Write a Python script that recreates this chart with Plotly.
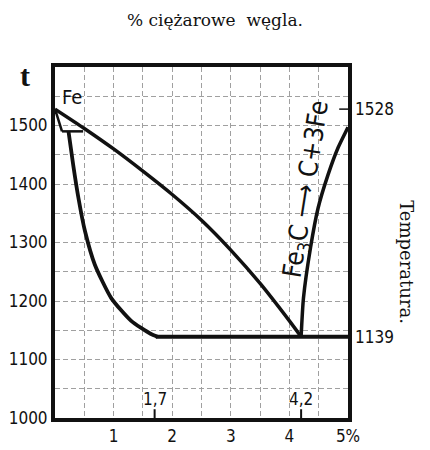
import plotly.graph_objects as go

# --- data ---
liquidus_x = [0, 0.5, 1.0, 1.5, 2.0, 2.5, 3.0, 3.5, 4.0, 4.2]
liquidus_t = [1528, 1495, 1460, 1422, 1382, 1338, 1287, 1230, 1166, 1139]

ferrite_x = [0, 0.12]
ferrite_t = [1528, 1490]

peritectic_x = [0.12, 0.48]
peritectic_t = [1490, 1490]

solidus_x = [0.23, 0.31, 0.40, 0.51, 0.68, 0.96, 1.30, 1.63, 1.75]
solidus_t = [1490, 1433, 1376, 1320, 1262, 1205, 1166, 1144, 1139]

eutectic_x = [1.72, 5.0]
eutectic_t = [1139, 1139]

graphite_x = [4.2, 4.24, 4.36, 4.49, 4.66, 4.83, 4.97, 5.0]
graphite_t = [1139, 1205, 1291, 1359, 1416, 1462, 1491, 1497]

x_ticks = [1, 2, 3, 4, 5]
x_ticktext = ["1", "2", "3", "4", "5%"]
y_ticks = [1000, 1100, 1200, 1300, 1400, 1500]
y_ticktext = ["1000", "1100", "1200", "1300", "1400", "1500"]

special_x = [1.7, 4.2]
special_x_text = ["1,7", "4,2"]
special_t = [1528, 1139]
special_t_text = ["1528", "1139"]

NARROW = "Liberation Sans Narrow, DejaVu Sans Condensed, Arial Narrow, Liberation Sans, sans-serif"
TICKFONT = dict(family=NARROW, size=17, color="#111")
SERIF = dict(family="DejaVu Serif, Liberation Serif, serif", size=17, color="#111")

fig = go.Figure()

for xs, ts, w in [(liquidus_x, liquidus_t, 3.5), (ferrite_x, ferrite_t, 2.5),
                  (peritectic_x, peritectic_t, 2.5), (solidus_x, solidus_t, 3.8),
                  (eutectic_x, eutectic_t, 4), (graphite_x, graphite_t, 3.5)]:
    fig.add_trace(go.Scatter(x=xs, y=ts, mode="lines",
                             line=dict(color="#111", width=w, shape="spline", smoothing=0.6),
                             hoverinfo="skip", showlegend=False, cliponaxis=False))

# small tick marks at special compositions on bottom axis
for sx in special_x:
    fig.add_shape(type="line", x0=sx, x1=sx, y0=1000, y1=1015, line=dict(color="#111", width=2))
# small tick at 1528 on right axis
fig.add_shape(type="line", x0=4.85, x1=5.0, y0=special_t[0], y1=special_t[0],
              line=dict(color="#111", width=1.5))

for sx, txt in zip(special_x, special_x_text):
    fig.add_annotation(x=sx, y=1032, text=txt, showarrow=False, font=TICKFONT,
                       xref="x", yref="y")
for st, txt in zip(special_t, special_t_text):
    fig.add_annotation(x=1.0, xref="paper", y=st, yref="y", text=txt, showarrow=False,
                       xanchor="left", xshift=5, font=TICKFONT)

fig.add_annotation(x=0.29, y=1549, text="Fe", showarrow=False,
                   font=dict(family=NARROW, size=20, color="#111"))
fig.add_annotation(x=4.3, y=1392, text="Fe<sub>3</sub>C \u27f6 C+3Fe", showarrow=False,
                   textangle=-81, font=dict(family=NARROW, size=26, color="#111"))

fig.add_annotation(x=-0.102, y=0.977, xref="paper", yref="paper", text="<b>t</b>",
                   xanchor="center", yanchor="middle",
                   showarrow=False, font=dict(family="Liberation Serif, serif", size=30, color="#111"))
fig.add_annotation(x=0.546, y=1.134, xref="paper", yref="paper",
                   text="% ciężarowe&nbsp;&nbsp;węgla.",
                   xanchor="center", yanchor="middle", showarrow=False, font=SERIF)
fig.add_annotation(x=1.201, y=0.444, xref="paper", yref="paper", text="Temperatura.",
                   xanchor="center", yanchor="middle",
                   showarrow=False, textangle=90,
                   font=dict(family=SERIF["family"], size=18, color="#111"))

GRIDC = "#a0a0a0"
fig.update_xaxes(range=[0, 5], tickvals=x_ticks, ticktext=x_ticktext, ticks="",
                 showline=True, linecolor="#111", linewidth=4, mirror=True,
                 tickfont=TICKFONT, zeroline=False, automargin=False,
                 showgrid=True, gridcolor=GRIDC, gridwidth=1, griddash="5px,3px",
                 minor=dict(dtick=0.5, tick0=0, showgrid=True, gridcolor=GRIDC, griddash="5px,3px"))
fig.update_yaxes(range=[1000, 1600], tickvals=y_ticks, ticktext=y_ticktext, ticks="",
                 showline=True, linecolor="#111", linewidth=4, mirror=True,
                 tickfont=TICKFONT, zeroline=False, automargin=False,
                 showgrid=True, gridcolor=GRIDC, gridwidth=1, griddash="5px,3px",
                 minor=dict(dtick=50, tick0=1000, showgrid=True, gridcolor=GRIDC, griddash="5px,3px"))

fig.update_layout(width=422, height=442, margin=dict(l=47, r=82, t=59, b=32, autoexpand=False),
                  plot_bgcolor="white", paper_bgcolor="white")

fig.write_html("out.html")
